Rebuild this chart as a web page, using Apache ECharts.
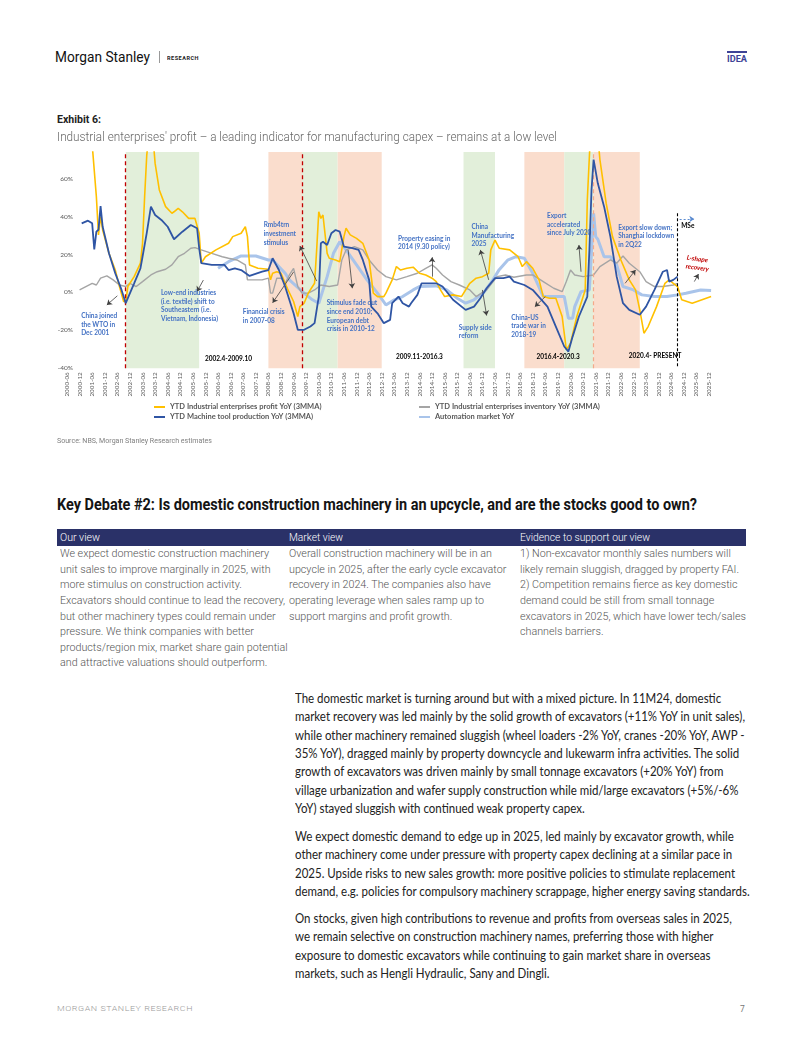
<!DOCTYPE html>
<html><head><meta charset="utf-8">
<script src="https://cdn.jsdelivr.net/npm/echarts@6/dist/echarts.min.js"></script>
<style>
html,body{margin:0;padding:0;background:#fff;}
body{width:802px;height:1037px;position:relative;overflow:hidden;font-family:Roboto,sans-serif;}
.abs{position:absolute;white-space:nowrap;transform-origin:0 0;z-index:2;}
.blk{position:absolute;white-space:nowrap;transform-origin:0 0;z-index:2;}
.blk div{white-space:nowrap;}
.tb{font-family:Roboto;font-weight:300;font-size:10.8px;line-height:15.6px;color:#555;}
.pa{font-family:Lato;font-size:12.5px;line-height:18.4px;color:#222;}
</style></head><body>

<div class="abs" style="left:55px;top:49px;font-size:15px;line-height:16px;color:#111;" data-w="95">Morgan Stanley</div>
<div style="position:absolute;left:159px;top:51px;width:1px;height:12px;background:#999;"></div>
<div class="abs" style="left:167px;top:55px;font-size:5.6px;line-height:6px;font-weight:700;letter-spacing:.5px;color:#222;" data-w="32">RESEARCH</div>
<div style="position:absolute;left:727px;top:51px;width:20px;height:1.5px;background:#3E4396;"></div>
<div class="abs" style="left:727px;top:54px;font-size:8.5px;line-height:10px;font-weight:700;color:#3E4396;" data-w="20">IDEA</div>

<div class="abs" style="left:57px;top:113px;font-size:11px;line-height:14px;font-weight:700;color:#222;" data-w="44">Exhibit 6:</div>
<div class="abs" style="left:57px;top:130px;font-size:12.5px;line-height:14px;font-weight:300;color:#666;" data-w="500">Industrial enterprises' profit – a leading indicator for manufacturing capex – remains at a low level</div>

<div id="chart" style="position:absolute;left:0;top:140px;width:802px;height:305px;z-index:1;"></div>

<div class="abs" style="left:57px;top:436px;font-size:7.5px;line-height:10px;color:#808080;" data-w="155">Source: NBS, Morgan Stanley Research estimates</div>

<div class="abs" style="left:57px;top:496px;font-size:16px;line-height:18px;font-weight:700;color:#141414;" data-w="640">Key Debate #2: Is domestic construction machinery in an upcycle, and are the stocks good to own?</div>

<div style="position:absolute;left:57px;top:529px;width:689px;height:17px;background:#2A3168;"></div>
<div class="abs" style="left:60px;top:530px;font-size:11px;line-height:15px;font-weight:300;color:#fff;" data-w="40">Our view</div>
<div class="abs" style="left:289px;top:530px;font-size:11px;line-height:15px;font-weight:300;color:#fff;" data-w="54">Market view</div>
<div class="abs" style="left:520px;top:530px;font-size:11px;line-height:15px;font-weight:300;color:#fff;" data-w="130">Evidence to support our view</div>

<div class="blk tb g-tbl" style="left:60px;top:546.2px;">
<div><span>We expect domestic construction machinery</span></div>
<div><span>unit sales to improve marginally in 2025, with</span></div>
<div><span>more stimulus on construction activity.</span></div>
<div><span class="ref-tbl">Excavators should continue to lead the recovery,</span></div>
<div><span>but other machinery types could remain under</span></div>
<div><span>pressure. We think companies with better</span></div>
<div><span>products/region mix, market share gain potential</span></div>
<div><span>and attractive valuations should outperform.</span></div>
</div>
<div class="blk tb g-tbl" style="left:289px;top:546.2px;">
<div><span>Overall construction machinery will be in an</span></div>
<div><span>upcycle in 2025, after the early cycle excavator</span></div>
<div><span>recovery in 2024. The companies also have</span></div>
<div><span>operating leverage when sales ramp up to</span></div>
<div><span>support margins and profit growth.</span></div>
</div>
<div class="blk tb g-tbl" style="left:520px;top:546.2px;">
<div><span>1) Non-excavator monthly sales numbers will</span></div>
<div><span>likely remain sluggish, dragged by property FAI.</span></div>
<div><span>2) Competition remains fierce as key domestic</span></div>
<div><span>demand could be still from small tonnage</span></div>
<div><span>excavators in 2025, which have lower tech/sales</span></div>
<div><span>channels barriers.</span></div>
</div>

<div class="blk pa g-para" style="left:295px;top:689.8px;">
<div><span>The domestic market is turning around but with a mixed picture. In 11M24, domestic</span></div>
<div><span class="ref-para">market recovery was led mainly by the solid growth of excavators (+11% YoY in unit sales),</span></div>
<div><span>while other machinery remained sluggish (wheel loaders -2% YoY, cranes -20% YoY, AWP -</span></div>
<div><span>35% YoY), dragged mainly by property downcycle and lukewarm infra activities. The solid</span></div>
<div><span>growth of excavators was driven mainly by small tonnage excavators (+20% YoY) from</span></div>
<div><span>village urbanization and wafer supply construction while mid/large excavators (+5%/-6%</span></div>
<div><span>YoY) stayed sluggish with continued weak property capex.</span></div>
</div>
<div class="blk pa g-para" style="left:295px;top:827.8px;">
<div><span>We expect domestic demand to edge up in 2025, led mainly by excavator growth, while</span></div>
<div><span>other machinery come under pressure with property capex declining at a similar pace in</span></div>
<div><span>2025. Upside risks to new sales growth: more positive policies to stimulate replacement</span></div>
<div><span>demand, e.g. policies for compulsory machinery scrappage, higher energy saving standards.</span></div>
</div>
<div class="blk pa g-para" style="left:295px;top:909.8px;">
<div><span>On stocks, given high contributions to revenue and profits from overseas sales in 2025,</span></div>
<div><span>we remain selective on construction machinery names, preferring those with higher</span></div>
<div><span>exposure to domestic excavators while continuing to gain market share in overseas</span></div>
<div><span>markets, such as Hengli Hydraulic, Sany and Dingli.</span></div>
</div>

<div class="abs" style="left:57px;top:1004px;font-size:8px;line-height:10px;font-weight:300;letter-spacing:.5px;color:#9a9a9a;" data-w="136">MORGAN STANLEY RESEARCH</div>
<div class="abs" style="left:740px;top:1004px;font-size:8.5px;line-height:10px;color:#777;">7</div>

<script>
// ---------- categories (monthly, 2000-06 .. 2026-01) ----------
const months = [];
for (let i = 0; i < 308; i++) { const t = 5 + i; months.push((2000 + Math.floor(t / 12)) + '-' + String(t % 12 + 1).padStart(2, '0')); }
const yTicks = [-40, -20, 0, 20, 40, 60];

// ---------- series data ----------
const profitName = 'YTD Industrial enterprises profit YoY (3MMA)';
const profitDates = ['2001-01','2001-06','2001-08','2001-09','2001-10','2001-11','2002-02','2002-05','2002-07','2002-09','2002-10','2002-11','2003-02','2003-05','2003-06','2003-07','2003-08','2003-10','2003-12','2004-02','2004-05','2004-08','2004-09','2004-11','2005-01','2005-04','2005-07','2005-09','2005-10','2005-12','2006-05','2006-11','2007-01','2007-05','2007-07','2007-08','2007-09','2008-01','2008-06','2008-07','2008-08','2008-10','2008-12','2009-03','2009-06','2009-08','2009-09','2009-11','2010-01','2010-03','2010-04','2010-05','2010-06','2010-07','2010-08','2010-10','2010-11','2011-02','2011-04','2011-06','2011-07','2011-09','2011-12','2012-03','2012-06','2012-08','2012-10','2013-01','2013-02','2013-05','2013-07','2013-09','2013-12','2014-03','2014-06','2014-09','2014-12','2015-02','2015-04','2015-06','2015-10','2016-02','2016-06','2016-09','2016-12','2017-03','2017-04','2017-06','2017-08','2018-01','2018-05','2018-07','2018-09','2018-12','2019-03','2019-05','2019-08','2019-11','2020-02','2020-04','2020-06','2020-09','2021-01','2021-02','2021-03','2021-04','2021-06','2021-08','2021-11','2022-02','2022-06','2022-10','2023-01','2023-03','2023-05','2023-07','2023-11','2024-03','2024-05','2024-07','2024-09','2024-11','2025-04','2026-01'];
const profitValues = [110,78,50.4,30.3,39.9,32.9,20.6,11.8,3.1,-4.8,-4.8,3.1,8.3,15.4,25.9,50.4,72,95,68,54,45.2,41.7,42.5,44.3,42.5,39,39,31.2,15.4,18.8,22.4,25.9,29.4,31.2,34.6,29.4,14.5,12.7,12.2,6.6,10.1,10.9,10.1,2.2,-4.8,-12.7,-7.5,-5.7,-0.4,3.1,4.8,22.4,42.5,39,40.8,20.6,18,17.1,16.2,29.4,33.8,30.3,28.5,25.9,17.1,-0.4,-2.2,-2.2,-0.4,6.6,13.6,11.8,12.7,13.3,10.1,9.2,7.5,5.7,1.3,-2.2,-1.3,-2.2,4.8,7.5,8.3,10.1,22.4,27.6,23.3,22.4,18.8,13.6,16.2,12.7,6.6,-2.2,-3.1,-3.1,-12.7,-30.3,-26.7,-12.7,1.3,48.7,72,95,95,70,46.9,29.4,17.1,6.6,1.3,-9.2,-21.5,-18,-7.5,4.8,6.6,4.8,3.1,-3.9,-5.7,-2.2];

const machineName = 'YTD Machine tool production YoY (3MMA)';
const machineDates = ['2001-01','2001-04','2001-06','2001-07','2001-08','2001-09','2001-10','2001-11','2002-02','2002-05','2002-08','2002-10','2002-11','2003-02','2003-05','2003-06','2003-08','2003-10','2003-12','2004-03','2004-06','2004-09','2005-01','2005-05','2005-08','2005-09','2005-10','2006-03','2006-09','2006-11','2007-02','2007-05','2007-09','2008-03','2008-06','2008-08','2008-11','2009-02','2009-06','2009-08','2009-11','2010-02','2010-04','2010-06','2010-07','2010-08','2010-10','2010-12','2011-02','2011-04','2011-06','2011-10','2012-01','2012-03','2012-06','2012-07','2012-10','2013-01','2013-04','2013-05','2013-08','2013-10','2014-01','2014-02','2014-05','2014-07','2015-02','2015-05','2015-10','2016-04','2016-08','2016-11','2017-02','2017-06','2017-10','2018-01','2018-03','2018-08','2018-12','2019-07','2019-11','2020-03','2020-05','2020-07','2020-10','2021-02','2021-03','2021-04','2021-05','2021-07','2021-10','2022-01','2022-04','2022-07','2022-10','2023-03','2023-06','2023-10','2024-02','2024-04','2024-05','2024-07','2024-09'];
const machineValues = [36.4,37.8,36.4,22.7,32,33,45.5,34.6,20.6,10.1,1.3,-5.7,-3,4.8,12.7,18.8,31.2,45.2,40.8,38.2,34.6,28,32,35.5,33.8,23.3,15.4,14.5,14.5,11.8,12.7,11.8,8.7,10.9,11.8,18,11.8,3,-11,-19.7,-19.7,-18,-16.2,-2.2,25.9,26.7,25,31.2,32.9,32,24.1,23.3,22.4,17.1,6.6,-7.5,-11,-16.2,-14.5,-5.7,-2.2,-5.7,-7.5,-5.7,-1.3,4.8,4.8,3.1,-3.9,-9.2,-7.5,-3.1,2.2,7.5,7.5,8.3,5.7,3.9,1.3,-7.5,-18,-28.5,-31.2,-23.3,-12.7,-2.2,22.4,54,70,57.5,45.2,29.4,8.3,-5.7,-9.2,-11.8,-7.5,1.3,10.9,11.8,5.7,6.6,8.3];

const inventoryName = 'YTD Industrial enterprises inventory YoY (3MMA)';
const inventoryDates = ['2000-12','2001-03','2001-06','2001-08','2001-10','2002-01','2002-04','2002-07','2002-10','2002-12','2003-03','2003-06','2003-10','2004-01','2004-05','2004-08','2004-11','2005-02','2005-05','2005-07','2005-10','2006-03','2006-08','2006-11','2007-03','2007-07','2007-08','2008-03','2008-06','2008-07','2008-08','2008-10','2008-12','2009-02','2009-04','2009-06','2009-08','2009-10','2010-01','2010-04','2010-07','2010-11','2011-03','2011-05','2011-07','2011-11','2012-03','2012-06','2012-10','2013-02','2013-07','2013-12','2014-05','2014-09','2014-12','2015-02','2015-05','2015-09','2016-01','2016-06','2016-09','2017-02','2017-07','2017-11','2018-03','2018-09','2018-12','2019-05','2019-10','2020-02','2020-04','2020-06','2020-08','2020-12','2021-05','2021-08','2022-01','2022-04','2022-07','2022-10','2023-03','2023-06','2023-10','2024-02','2024-07','2024-09'];
const inventoryValues = [1.3,3.1,4.8,3.9,7.5,8.7,6.6,3.9,3.1,4.8,3.1,5.7,9.2,10.9,12.2,14.5,18.8,20.6,23.3,23.6,22.4,20.6,18.8,18,17.1,14.5,6.6,6.6,7.5,-0.4,-0.4,7.5,7.5,4.8,9.2,12.7,3.1,-0.4,-0.4,1.3,3.9,3.1,3.9,17.1,22.4,24.1,22.4,17.1,11.8,8.3,6.6,8.3,10.1,12.7,14.5,12.7,9.2,5.7,3.9,1.3,-2.2,1.3,8.3,9.2,8,9.2,9.2,5.7,2.2,0.4,5.7,11.8,9.2,8.3,9.2,13.6,17.1,15.4,19.2,15.4,10.9,5.7,3.1,3.1,3.9,4.8];

const automationName = 'Automation market YoY';
const automationDates = ['2006-06','2006-11','2007-05','2007-12','2008-06','2008-08','2009-02','2009-04','2009-11','2010-03','2010-06','2010-10','2011-01','2011-04','2011-07','2011-12','2012-05','2012-10','2013-02','2013-06','2013-10','2014-03','2014-06','2015-02','2015-07','2015-12','2016-04','2016-08','2017-01','2017-05','2017-08','2017-12','2018-04','2018-08','2018-12','2019-05','2020-03','2020-05','2020-07','2020-08','2020-11','2021-03','2021-05','2021-06','2021-07','2021-10','2022-01','2022-04','2022-07','2022-12','2023-04','2023-10','2024-04','2024-09','2025-01','2025-08','2026-01'];
const automationValues = [12.7,16.2,19.2,19.2,17.1,17.1,10.1,6.6,-0.4,-3.9,-5.7,8.3,20.6,26.7,22.4,14.5,6.6,-0.4,-6.6,-3.9,-2.2,1.3,3.1,3.4,1.3,-3.1,-5.7,-3.9,0.4,6.6,12,17,18.8,18,10.1,-2.2,-2.2,-13.6,-13.6,-7.5,0.4,1.3,41.7,29.4,28,18.8,18.8,14.5,3.1,1.3,-1.3,-2.2,-2.2,-1.3,-0.4,1.3,1];

// ---------- shaded periods ----------
const bandStarts = ['2002-10','2008-06','2009-10','2011-03','2016-03','2018-08','2020-03','2021-05'];
const bandEnds   = ['2005-09','2009-10','2011-03','2012-12','2017-06','2020-03','2021-05','2023-03'];
const bandKinds  = ['g','o','g','o','g','o','g','o'];

// ---------- annotation layout (not data) ----------
const BLUE = '#4472C4';
const annotations = [
  {text:'China joined\nthe WTO in\nDec 2001', at:['2001-01', -10.3]},
  {text:'Low-end industries\n(i.e. textile) shift to\nSoutheastern (i.e.\nVietnam, Indonesia)', at:['2004-03', 1.8]},
  {text:'Rmb4trn\ninvestment\nstimulus', at:['2008-04', 37.4]},
  {text:'Financial crisis\nin 2007-08', at:['2007-06', -8.2]},
  {text:'Stimulus fade out\nsince end 2010;\nEuropean debt\ncrisis in 2010-12', at:['2010-10', -3.7]},
  {text:'Property easing in\n2014 (9.30 policy)', at:['2013-08', 30.4]},
  {text:'China\nManufacturing\n2025', at:['2016-07', 36.5]},
  {text:'Supply side\nreform', at:['2016-01', -16.5]},
  {text:'China-US\ntrade war in\n2018-19', at:['2018-02', -11.2]},
  {text:'Export\naccelerated\nsince July 2020', at:['2019-07', 42.3]},
  {text:'Export slow down;\nShanghai lockdown\nin 2Q22', at:['2022-05', 36.2]},
  {text:'MSe', at:['2024-11', 37], color:'#000'},
  {text:'L-shape\nrecovery', at:['2025-02', 20.4], color:'#C00000', italic:true, rotate:-8},
  {text:'2002.4-2009.10', at:['2005-12', -32.8], color:'#000'},
  {text:'2009.11-2016.3', at:['2013-07', -32.2], color:'#000'},
  {text:'2016.4-2020.3', at:['2019-02', -32.2], color:'#000'},
  {text:'2020.4- PRESENT', at:['2022-10', -31.7], color:'#000'}
];
const arrows = [
  [['2002-06', -1.8], ['2002-01', -6.6]],
  [['2005-11', 6.5], ['2005-08', 0.5]],
  [['2010-05', 6], ['2009-09', 24.5]],
  [['2009-06', 10.8], ['2008-08', -5.5]],
  [['2011-08', 22.4], ['2011-10', 2.2]],
  [['2014-12', 8.3], ['2014-12', 18.5]],
  [['2017-03', 6.6], ['2016-11', 22.4]],
  [['2016-12', 1.3], ['2017-02', -12.2]],
  [['2019-06', -2.2], ['2019-01', -7.5]],
  [['2020-11', 10.9], ['2020-10', 25]],
  [['2022-08', 4.8], ['2023-01', 11.8]],
  [['2025-05', 5.7], ['2025-07', 9.7]]
];

const pairs = (d, v) => d.map((x, i) => [x, v[i]]);
const FONT = 'Lato';

const lineSeries = (name, d, v, color, width, z) => ({
  name, type: 'line', data: pairs(d, v), showSymbol: false, symbol: 'none', z,
  lineStyle: { color, width }, itemStyle: { color }, clip: true, silent: true
});

const chart = echarts.init(document.getElementById('chart'), null, { renderer: 'canvas' });
const legendText = { fontFamily: FONT, fontSize: 7.5, fontWeight: 'bold', color: '#595959', lineHeight: 10 };
chart.setOption({
  animation: false,
  backgroundColor: 'transparent',
  grid: { left: 67, right: 90.9, top: 12, bottom: 76.7, containLabel: false, outerBoundsMode: 'none' },
  legend: [
    { left: 149, top: 257, orient: 'vertical', itemGap: 0, itemWidth: 11, itemHeight: 2, icon: 'rect', selectedMode: false,
      data: [profitName, machineName], textStyle: legendText },
    { left: 414, top: 257, orient: 'vertical', itemGap: 0, itemWidth: 11, itemHeight: 2, icon: 'rect', selectedMode: false,
      data: [inventoryName, automationName], textStyle: legendText }
  ],
  xAxis: {
    type: 'category', data: months, boundaryGap: false,
    axisLine: { show: false }, axisTick: { show: false }, splitLine: { show: false },
    axisLabel: {
      interval: (i, v) => /-(06|12)$/.test(v), rotate: 90, fontSize: 6.3, fontFamily: FONT,
      color: '#595959', margin: 4
    }
  },
  yAxis: {
    type: 'value', min: -40, max: 74, interval: 20,
    axisLine: { show: false }, axisTick: { show: false }, splitLine: { show: false },
    axisLabel: { fontSize: 6.5, fontFamily: FONT, color: '#595959', margin: -6,
      formatter: v => (yTicks.indexOf(v) >= 0 ? v + '%' : '') }
  },
  series: [
    {
      type: 'line', data: [], z: 1, silent: true,
      markArea: {
        silent: true,
        data: bandStarts.map((s, i) => [
          { xAxis: s, itemStyle: { color: bandKinds[i] === 'g' ? '#E2EFDA' : '#FADDCD' } },
          { xAxis: bandEnds[i] }
        ])
      },
      markLine: {
        silent: true, symbol: ['none', 'none'], label: { show: false },
        data: [
          { xAxis: '2002-10', lineStyle: { color: '#C00000', type: [4, 3], width: 1.3 } },
          { xAxis: '2009-10', lineStyle: { color: '#C00000', type: [4, 3], width: 1.3 } },
          { xAxis: '2021-05', lineStyle: { color: '#F4A98A', type: [4, 3], width: 1.2 } },
          [ { coord: ['2024-09', 41.7], lineStyle: { color: '#000', type: [3, 2], width: 1.1 } }, { coord: ['2024-09', -40] } ]
        ]
      }
    },
    lineSeries(automationName, automationDates, automationValues, '#A9C4EA', 3, 2),
    lineSeries(inventoryName, inventoryDates, inventoryValues, '#A5A5A5', 1.4, 3),
    lineSeries(profitName, profitDates, profitValues, '#FFC000', 1.6, 4),
    lineSeries(machineName, machineDates, machineValues, '#2F55A4', 1.8, 5),
    {
      type: 'line', data: [], z: 10, silent: true,
      markLine: {
        silent: true, symbol: ['none', 'arrow'], symbolSize: 5, label: { show: false },
        lineStyle: { color: '#404040', width: 0.8, type: 'solid' },
        data: arrows.map(a => [{ coord: a[0] }, { coord: a[1] }]).concat([
          [ { coord: ['2024-10', 38.7], lineStyle: { color: '#5B8BD0', width: 1, type: [2, 2] } }, { coord: ['2025-05', 38.7] } ]
        ])
      },
      markPoint: {
        silent: true,
        data: annotations.map(a => ({
          coord: a.at, symbol: 'circle', symbolSize: 1, itemStyle: { color: 'rgba(0,0,0,0)' },
          label: {
            show: true, position: [0, 0], formatter: a.text, align: 'left', verticalAlign: 'top',
            color: a.color || BLUE, fontFamily: FONT, fontWeight: 'bold', fontSize: 6.5, lineHeight: 8.7,
            fontStyle: a.italic ? 'italic' : 'normal', rotate: a.rotate || 0
          }
        }))
      }
    }
  ]
});

// ---------- fit page text widths ----------
function fitText() {
  document.querySelectorAll('[data-w]').forEach(el => {
    el.style.transform = 'none';
    const w = el.getBoundingClientRect().width;
    if (w > 0) el.style.transform = 'scaleX(' + (parseFloat(el.dataset.w) / w) + ')';
  });
  [['para', 450], ['tbl', 225]].forEach(([g, t]) => {
    document.querySelectorAll('.g-' + g).forEach(b => { b.style.transform = 'none'; });
    const ref = document.querySelector('.ref-' + g);
    const w = ref.getBoundingClientRect().width;
    const s = t / w;
    document.querySelectorAll('.g-' + g).forEach(b => { b.style.transform = 'scaleX(' + s + ')'; });
  });
}
fitText();
if (document.fonts && document.fonts.ready) document.fonts.ready.then(fitText);
</script>
</body></html>
